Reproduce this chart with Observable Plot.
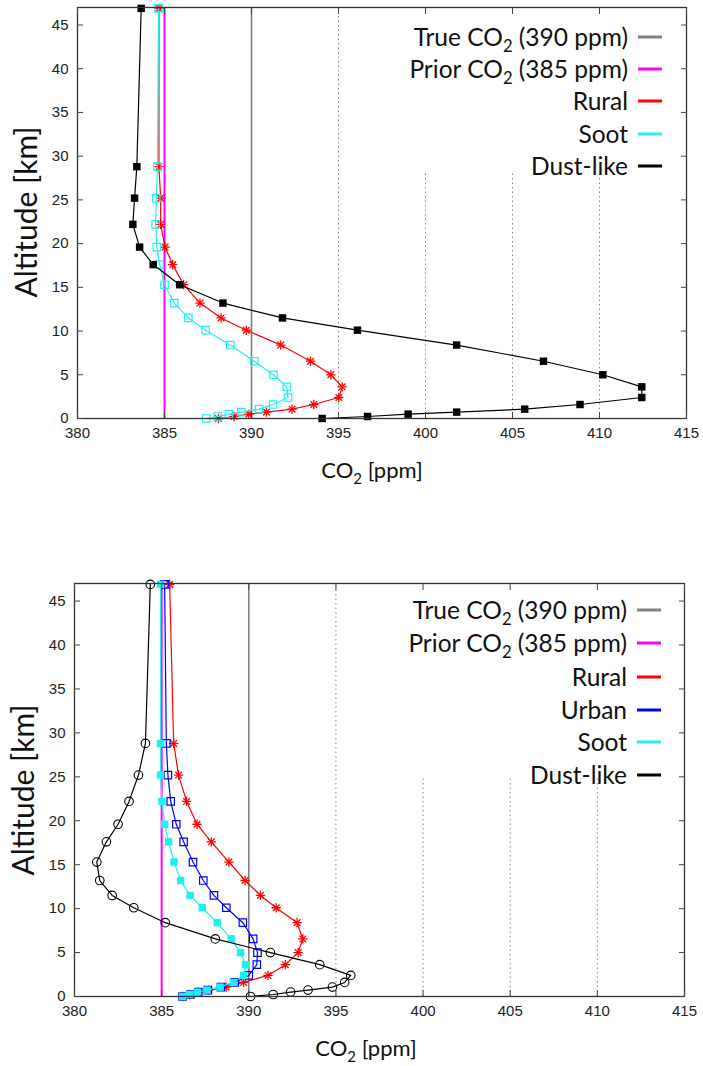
<!DOCTYPE html>
<html><head><meta charset="utf-8">
<script src="https://cdn.jsdelivr.net/npm/d3@7"></script>
<script src="https://cdn.jsdelivr.net/npm/@observablehq/plot@0.6"></script>
<style>
body{margin:0;background:#fff;}
#chart svg{display:block;}
</style>
</head><body><div id="chart"></div>
<script>
// ---- data ----
const altitude = [0, 0.23, 0.5, 0.73, 1.07, 1.6, 2.4, 3.62, 5.0, 6.55, 8.4, 10.1, 11.5, 13.2, 15.3, 17.6, 19.6, 22.2, 25.2, 28.8, 46.9];
const xTicks = [380, 385, 390, 395, 400, 405, 410, 415];
const yTicks = [0, 5, 10, 15, 20, 25, 30, 35, 40, 45];
const gridTicks = [395, 400, 405, 410];
const trueCO2 = 390;
const priorCO2 = 385;

// top panel
const topRural = [388.1, 389.0, 389.85, 390.86, 392.33, 393.58, 395.02, 395.21, 394.56, 393.39, 391.68, 389.7, 388.25, 387.04, 386.1, 385.47, 385.03, 384.78, 384.78, 384.68, 384.68];
const topSoot  = [387.4, 388.07, 388.7, 389.42, 390.43, 391.24, 392.1, 392.03, 391.26, 390.16, 388.78, 387.36, 386.37, 385.56, 385.0, 384.72, 384.56, 384.49, 384.53, 384.6, 384.66];
const topDust  = [394.06, 396.67, 399.0, 401.79, 405.7, 408.88, 412.43, 412.43, 410.19, 406.78, 401.79, 396.09, 391.78, 388.36, 385.87, 384.35, 383.57, 383.18, 383.28, 383.41, 383.66];

// bottom panel
const botRural = [386.2, 386.6, 387.1, 387.7, 388.7, 389.7, 391.1, 392.1, 392.83, 393.1, 392.77, 391.57, 390.67, 389.79, 388.86, 387.85, 387.03, 386.43, 385.97, 385.69, 385.46];
const botUrban = [386.2, 386.65, 387.1, 387.65, 388.4, 389.2, 390.0, 390.46, 390.5, 390.25, 389.66, 388.71, 388.0, 387.39, 386.8, 386.26, 385.84, 385.52, 385.36, 385.27, 385.17];
const botSoot  = [386.2, 386.6, 387.05, 387.6, 388.35, 389.1, 389.7, 389.81, 389.52, 388.99, 388.19, 387.33, 386.63, 386.09, 385.71, 385.4, 385.17, 385.02, 384.94, 384.94, 384.94];
const botDust  = [390.1, 391.4, 392.4, 393.4, 394.8, 395.5, 395.85, 394.07, 391.24, 388.08, 385.21, 383.4, 382.16, 381.45, 381.28, 381.83, 382.5, 383.13, 383.67, 384.07, 384.35];

const colors = {true: "#808080", prior: "#ff00ff", Rural: "#ff0000", Urban: "#0000ff", Soot: "#1ef0f0", "Dust-like": "#000000"};

const TITLE_FONT = "Lato, 'Open Sans', sans-serif";

function toRows(values) { return altitude.map((a, i) => ({alt: a, ppm: values[i]})); }

function seriesMarks(values, color, marker) {
  const data = toRows(values);
  const m = [Plot.line(data, {x: "ppm", y: "alt", stroke: color, strokeWidth: 1.2})];
  const base = {x: "ppm", y: "alt"};
  if (marker === "filledSquare") m.push(Plot.dot(data, {...base, symbol: "square", r: 4.2, fill: color, stroke: "none"}));
  if (marker === "openSquare") m.push(Plot.dot(data, {...base, symbol: "square", r: 4.2, fill: "none", stroke: color, strokeWidth: 1.2}));
  if (marker === "openCircle") m.push(Plot.dot(data, {...base, symbol: "circle", r: 4.3, fill: "none", stroke: color, strokeWidth: 1.1}));
  if (marker === "star") {
    m.push(Plot.dot(data, {...base, symbol: "plus", r: 3.1, stroke: color, strokeWidth: 1.3}));
    m.push(Plot.dot(data, {...base, symbol: "times", r: 3.1, stroke: color, strokeWidth: 1.3}));
  }
  return m;
}

function addRichText(g, x, y, parts, opts = {}) {
  const size = opts.size || 22;
  const t = g.append("text")
    .attr("x", x).attr("y", y)
    .attr("text-anchor", opts.anchor || "end")
    .attr("dy", "0.35em")
    .attr("font-family", TITLE_FONT)
    .attr("font-size", size)
    .attr("fill", "#111");
  if (opts.rotate) t.attr("transform", `rotate(-90 ${x} ${y})`);
  let shifted = false;
  for (const p of parts) {
    if (p.sub) {
      t.append("tspan").attr("font-size", size * 0.68).attr("dy", size * 0.28).text(p.text);
      shifted = true;
    } else {
      const ts = t.append("tspan").text(p.text);
      if (shifted) { ts.attr("dy", -size * 0.28); shifted = false; }
    }
  }
  return t;
}

function panel(cfg) {
  const marks = [
    Plot.ruleX([gridTicks[0]], {y1: 0, y2: 47, stroke: "#888", strokeWidth: 1, strokeDasharray: "1.5,3"}),
    Plot.ruleX(gridTicks.slice(1), {y1: 0, y2: cfg.gridTop, stroke: "#888", strokeWidth: 1, strokeDasharray: "1.5,3"}),
    Plot.ruleX([trueCO2], {stroke: colors.true, strokeWidth: 1.6}),
    Plot.ruleX([priorCO2], {stroke: colors.prior, strokeWidth: 2}),
  ];
  for (const s of cfg.series) marks.push(...seriesMarks(s.values, colors[s.name], s.marker));
  marks.push(
    Plot.frame({stroke: "#333", strokeWidth: 1.3}),
    Plot.axisX({ticks: xTicks, anchor: "bottom", tickSize: 0, tickPadding: 9, label: null, fill: "#222"}),
    Plot.axisY({ticks: yTicks, anchor: "left", tickSize: 0, tickPadding: 9, label: null, fill: "#222"}),
    Plot.axisX({ticks: xTicks, anchor: "bottom", tickSize: 6, dy: -6, fill: "none", stroke: "#444", label: null}),
    Plot.axisX({ticks: xTicks, anchor: "top", tickSize: 6, dy: 6, fill: "none", stroke: "#444", label: null}),
    Plot.axisY({ticks: yTicks, anchor: "left", tickSize: 6, dx: 6, fill: "none", stroke: "#444", label: null}),
    Plot.axisY({ticks: yTicks, anchor: "right", tickSize: 6, dx: -6, fill: "none", stroke: "#444", label: null})
  );
  const svg = Plot.plot({
    width: 703, height: cfg.height,
    marginLeft: cfg.ml, marginRight: cfg.mr, marginTop: cfg.mt, marginBottom: cfg.mb,
    x: {domain: [380, 415]},
    y: {domain: [0, 47]},
    style: {fontFamily: "'Liberation Sans', Arial, sans-serif", fontSize: "15px", background: "#fff", overflow: "visible"},
    marks
  });
  const g = d3.select(svg).append("g");
  cfg.legend.forEach((item, i) => {
    const y = cfg.legendY[i];
    addRichText(g, cfg.legendTextX, y, item.parts, {size: 24.5});
    g.append("line").attr("x1", cfg.legendTextX + 10).attr("x2", cfg.legendTextX + 34)
      .attr("y1", y).attr("y2", y).attr("stroke", item.color).attr("stroke-width", 3);
  });
  addRichText(g, cfg.xTitle[0], cfg.xTitle[1], [{text: "CO"}, {text: "2", sub: true}, {text: " [ppm]"}], {anchor: "middle", size: 22});
  addRichText(g, cfg.yTitle[0], cfg.yTitle[1], [{text: "Altitude [km]"}], {anchor: "middle", size: 30, rotate: true});
  return svg;
}

const legTrue = {parts: [{text: "True CO"}, {text: "2", sub: true}, {text: " (390 ppm)"}], color: colors.true};
const legPrior = {parts: [{text: "Prior CO"}, {text: "2", sub: true}, {text: " (385 ppm)"}], color: colors.prior};
const leg = name => ({parts: [{text: name}], color: colors[name]});

const topPanel = panel({
  height: 540, ml: 77, mr: 17, mt: 7, mb: 122, gridTop: 28.3,
  series: [
    {name: "Rural", values: topRural, marker: "star"},
    {name: "Soot", values: topSoot, marker: "openSquare"},
    {name: "Dust-like", values: topDust, marker: "filledSquare"}
  ],
  legend: [legTrue, legPrior, leg("Rural"), leg("Soot"), leg("Dust-like")],
  legendY: [37, 69, 101, 134, 166],
  legendTextX: 628,
  xTitle: [372, 470],
  yTitle: [26, 212]
});
const bottomPanel = panel({
  height: 526, ml: 74, mr: 19, mt: 43, mb: 70, gridTop: 25.1,
  series: [
    {name: "Rural", values: botRural, marker: "star"},
    {name: "Urban", values: botUrban, marker: "openSquare"},
    {name: "Soot", values: botSoot, marker: "filledSquare"},
    {name: "Dust-like", values: botDust, marker: "openCircle"}
  ],
  legend: [legTrue, legPrior, leg("Rural"), leg("Urban"), leg("Soot"), leg("Dust-like")],
  legendY: [70, 103, 137, 170, 202, 235],
  legendTextX: 627,
  xTitle: [366, 508],
  yTitle: [23, 250]
});
document.getElementById("chart").append(topPanel, bottomPanel);
</script>
</body></html>
